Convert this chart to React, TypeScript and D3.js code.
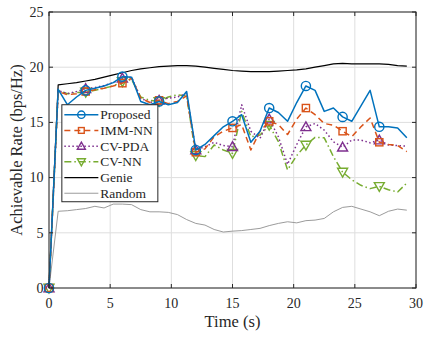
import React, { useRef, useEffect } from 'react';
import * as d3 from 'd3';

// sample period 0.75 s, 40 samples
const times = d3.range(40).map(k => k * 0.75);

const proposed = [0, 18.0, 16.6, 17.3, 17.9, 18.1, 18.3, 18.6, 19.15, 19.1, 16.9, 16.6, 16.9, 16.6, 16.8, 17.8,
  12.5, 13.0, 13.8, 14.6, 15.1, 15.7, 13.2, 14.2, 16.3, 15.9, 15.1, 16.8, 18.3, 17.9, 16.0, 16.3, 15.5, 15.1,
  16.5, 17.9, 14.6, 14.6, 14.5, 13.6];
const immNN = [0, 17.8, 17.5, 17.6, 17.8, 17.95, 18.1, 18.3, 18.55, 19.0, 17.2, 16.8, 17.0, 16.7, 16.9, 17.4,
  12.3, 12.6, 13.7, 14.2, 14.5, 14.8, 12.5, 14.2, 15.1, 14.8, 13.9, 15.3, 16.3, 15.7, 14.9, 14.75, 14.2, 13.7,
  14.6, 15.4, 13.2, 13.0, 12.9, 12.35];
const cvPDA = [0, 17.9, 17.6, 17.8, 18.05, 18.15, 18.35, 18.6, 19.0, 19.1, 17.2, 16.8, 17.0, 17.2, 17.3, 17.6,
  12.5, 12.8, 13.2, 12.9, 12.8, 16.6, 14.2, 13.55, 15.3, 13.7, 11.2, 13.0, 14.6, 14.9, 14.3, 13.25, 12.75, 13.4,
  13.4, 13.15, 13.4, 12.95, 12.9, 12.85];
const cvNN = [0, 17.9, 17.6, 17.7, 17.75, 17.9, 18.1, 18.3, 18.7, 18.9, 17.3, 17.0, 16.9, 17.3, 17.5, 17.4,
  12.0, 11.9, 12.95, 12.5, 12.2, 16.0, 13.7, 13.85, 14.75, 13.25, 10.7, 12.0, 12.95, 13.65, 13.6, 11.9, 10.5, 9.8,
  9.3, 9.0, 9.2, 8.9, 8.7, 9.5];
const genie = [0, 18.4, 18.5, 18.6, 18.75, 18.9, 19.1, 19.3, 19.5, 19.7, 19.85, 19.95, 20.05, 20.1, 20.15, 20.15,
  20.1, 20.0, 19.9, 19.8, 19.7, 19.65, 19.6, 19.6, 19.6, 19.65, 19.7, 19.75, 19.85, 20.0, 20.15, 20.3, 20.35, 20.3,
  20.3, 20.3, 20.3, 20.25, 20.15, 20.1];
const random = [0, 6.95, 7.0, 7.1, 7.2, 7.4, 7.25, 7.6, 7.6, 7.55, 7.1, 6.9, 6.9, 6.85, 6.65, 6.2,
  5.85, 5.7, 5.3, 5.07, 5.15, 5.2, 5.3, 5.4, 5.65, 5.85, 6.0, 5.9, 6.1, 6.15, 6.3, 6.9, 7.3, 7.4,
  7.15, 6.9, 6.55, 6.95, 7.15, 7.05];

const xTicks = [0, 5, 10, 15, 20, 25, 30];
const yTicks = [0, 5, 10, 15, 20, 25];

type Marker = 'circle' | 'square' | 'up' | 'down' | 'none';

const series: { name: string; values: number[]; color: string; width: number; dash: string | null; marker: Marker }[] = [
  { name: 'Proposed', values: proposed, color: '#0072BD', width: 1.5, dash: null, marker: 'circle' },
  { name: 'IMM-NN', values: immNN, color: '#D95319', width: 1.5, dash: '6,4', marker: 'square' },
  { name: 'CV-PDA', values: cvPDA, color: '#7E2F8E', width: 1.5, dash: '1.5,2.5', marker: 'up' },
  { name: 'CV-NN', values: cvNN, color: '#77AC30', width: 1.5, dash: '7,3,1.5,3', marker: 'down' },
  { name: 'Genie', values: genie, color: '#000000', width: 1.2, dash: null, marker: 'none' },
  { name: 'Random', values: random, color: '#909090', width: 0.9, dash: null, marker: 'none' },
];

const font = "'Liberation Serif', 'Times New Roman', Times, serif";

function drawMarker(g: any, type: Marker, x: number, y: number, color: string, s = 1) {
  if (type === 'circle') {
    g.append('circle').attr('cx', x).attr('cy', y).attr('r', 4.6 * s)
      .attr('fill', 'none').attr('stroke', color).attr('stroke-width', 1.4);
  } else if (type === 'square') {
    g.append('rect').attr('x', x - 3.6 * s).attr('y', y - 3.6 * s).attr('width', 7.2 * s).attr('height', 7.2 * s)
      .attr('fill', 'none').attr('stroke', color).attr('stroke-width', 1.4);
  } else if (type === 'up') {
    g.append('path').attr('d', `M${x},${y - 5 * s} L${x + 5 * s},${y + 3.8 * s} L${x - 5 * s},${y + 3.8 * s} Z`)
      .attr('fill', 'none').attr('stroke', color).attr('stroke-width', 1.4);
  } else if (type === 'down') {
    g.append('path').attr('d', `M${x},${y + 5 * s} L${x + 5 * s},${y - 3.8 * s} L${x - 5 * s},${y - 3.8 * s} Z`)
      .attr('fill', 'none').attr('stroke', color).attr('stroke-width', 1.4);
  }
}

const RateChart: React.FC = () => {
  const svgRef = useRef<SVGSVGElement>(null);
  const width = 426;
  const height = 337;

  useEffect(() => {
    if (!svgRef.current) return;
    const svg = d3.select(svgRef.current);
    svg.selectAll('*').remove();

    const margin = { top: 12, right: 10, bottom: 49, left: 49 };
    const w = width - margin.left - margin.right;
    const h = height - margin.top - margin.bottom;

    const g = svg.append('g').attr('transform', `translate(${margin.left},${margin.top})`);

    const xScale = d3.scaleLinear().domain([0, 30]).range([0, w]);
    const yScale = d3.scaleLinear().domain([0, 25]).range([h, 0]);

    g.append('rect').attr('width', w).attr('height', h).attr('fill', '#fff');

    // grid
    xTicks.forEach(t => {
      g.append('line').attr('x1', xScale(t)).attr('x2', xScale(t)).attr('y1', 0).attr('y2', h)
        .attr('stroke', '#dedede').attr('stroke-width', 1);
    });
    yTicks.forEach(t => {
      g.append('line').attr('x1', 0).attr('x2', w).attr('y1', yScale(t)).attr('y2', yScale(t))
        .attr('stroke', '#dedede').attr('stroke-width', 1);
    });

    const plot = g.append('g');
    const line = d3.line<number>()
      .x((d, i) => xScale(times[i]))
      .y(d => yScale(d));

    // draw back to front
    const order = [5, 4, 3, 2, 1, 0];
    order.forEach(idx => {
      const s = series[idx];
      plot.append('path')
        .datum(s.values)
        .attr('d', line)
        .attr('fill', 'none')
        .attr('stroke', s.color)
        .attr('stroke-width', s.width)
        .attr('stroke-dasharray', s.dash)
        .attr('stroke-linejoin', 'round');
      if (s.marker !== 'none') {
        s.values.forEach((v, i) => {
          if (i % 4 === 0) drawMarker(plot, s.marker, xScale(times[i]), yScale(v), s.color);
        });
      }
    });

    // box and ticks
    g.append('rect').attr('width', w).attr('height', h).attr('fill', 'none')
      .attr('stroke', '#262626').attr('stroke-width', 1);
    xTicks.forEach(t => {
      g.append('line').attr('x1', xScale(t)).attr('x2', xScale(t)).attr('y1', h).attr('y2', h - 4).attr('stroke', '#262626');
      g.append('line').attr('x1', xScale(t)).attr('x2', xScale(t)).attr('y1', 0).attr('y2', 4).attr('stroke', '#262626');
      g.append('text').attr('x', xScale(t)).attr('y', h + 20).attr('text-anchor', 'middle')
        .style('font-family', font).style('font-size', '14px').attr('fill', '#262626').text(t);
    });
    yTicks.forEach(t => {
      g.append('line').attr('x1', 0).attr('x2', 4).attr('y1', yScale(t)).attr('y2', yScale(t)).attr('stroke', '#262626');
      g.append('line').attr('x1', w).attr('x2', w - 4).attr('y1', yScale(t)).attr('y2', yScale(t)).attr('stroke', '#262626');
      g.append('text').attr('x', -5.5).attr('y', yScale(t) + 4.8).attr('text-anchor', 'end')
        .style('font-family', font).style('font-size', '14px').attr('fill', '#262626').text(t);
    });

    // axis labels
    g.append('text').attr('x', w / 2).attr('y', h + 39).attr('text-anchor', 'middle')
      .style('font-family', font).style('font-size', '16.5px').attr('fill', '#262626').text('Time (s)');
    g.append('text').attr('transform', 'rotate(-90)').attr('x', -h / 2).attr('y', -27)
      .attr('text-anchor', 'middle')
      .style('font-family', font).style('font-size', '16.5px').attr('fill', '#262626').text('Achievable Rate (bps/Hz)');

    // legend
    const legend = g.append('g').attr('transform', `translate(${xScale(1.05)},${yScale(16.6)})`);
    legend.append('rect').attr('x', 0).attr('y', 0).attr('width', 96).attr('height', 97)
      .attr('fill', '#fff').attr('stroke', '#262626').attr('stroke-width', 1);
    series.forEach((s, i) => {
      const ly = 10 + i * 15.7;
      legend.append('line').attr('x1', 2.5).attr('x2', 36.5).attr('y1', ly).attr('y2', ly)
        .attr('stroke', s.color).attr('stroke-width', s.width).attr('stroke-dasharray', s.dash);
      drawMarker(legend, s.marker, 19.5, ly, s.color, 0.8);
      legend.append('text').attr('x', 38.5).attr('y', ly + 4.5)
        .style('font-family', font).style('font-size', '13.5px').attr('fill', '#262626').text(s.name);
    });
  }, []);

  return <svg ref={svgRef} width={width} height={height} style={{ position: 'absolute', left: 0, top: 0, background: '#fff' }} />;
};

export default function App() {
  return <RateChart />;
}
